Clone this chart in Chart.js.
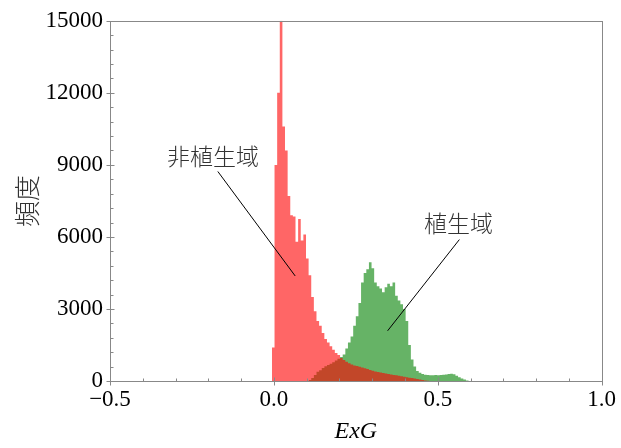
<!DOCTYPE html>
<html>
<head>
<meta charset="utf-8">
<script src="https://cdn.jsdelivr.net/npm/chart.js@4.4.1/dist/chart.umd.min.js"></script>
<style>
  html, body { margin: 0; padding: 0; background: #fff; }
  #wrap { width: 621px; height: 448px; }
</style>
</head>
<body>
<div id="wrap"><canvas id="histChart" width="621" height="448"></canvas></div>
<script>
// Histogram bins (ExG), same width for both classes
const BIN_WIDTH = 0.008;
const redStart = -0.006;   // left edge of first 非植生域 bin
const greenStart = 0.106;  // left edge of first 植生域 bin

// counts per bin
const redCounts = [
  400, 1400, 9000, 12000, 16000, 10600, 9600, 7700, 6900, 6850,
  5800, 6750, 5850, 6100, 5100, 4400, 3500, 2900, 2500, 2300,
  2000, 1750, 1600, 1450, 1300, 1170, 1080, 960, 870, 800,
  740, 690, 650, 620, 590, 560, 530, 500, 460, 430,
  400, 370, 350, 330, 310, 290, 270, 250, 240, 220,
  200, 180, 160, 140, 120, 100, 80, 60, 40, 25,
  15, 5
];
const greenCounts = [
  10, 40, 120, 250, 380, 450, 540, 610, 670, 720,
  780, 850, 930, 1000, 1100, 1350, 1600, 1850, 2300, 2700,
  3250, 4100, 4500, 4650, 4950, 4700, 4100, 3950, 3850, 3700,
  3900, 4050, 3950, 4100, 3550, 3350, 3200, 3000, 2500, 1500,
  900, 600, 420, 340, 290, 260, 250, 240, 240, 250,
  240, 250, 260, 270, 290, 300, 280, 220, 160, 100,
  60, 20
];

// axis ticks
const xTicks = [-0.5, 0.0, 0.5, 1.0];
const yTicks = [0, 3000, 6000, 9000, 12000, 15000];
const X_MINOR = 0.1;
const Y_MINOR = 600;

// labels with leader lines (data coordinates)
const annotations = [
  { text: '非植生域', textAt: [-0.1855, 9350], from: [-0.171, 8725], to: [0.065, 4375] },
  { text: '植生域', textAt: [0.563, 6565], from: [0.566, 5890], to: [0.347, 2090] }
];

const SERIF = "'Liberation Serif', 'Times New Roman', 'Noto Sans CJK JP', serif";
const CJK = "'Noto Sans CJK JP', 'Noto Sans CJK SC', sans-serif";

// turn counts into step points: one point per left edge plus a closing point
function toSteps(start, counts) {
  const pts = counts.map((c, i) => ({ x: start + i * BIN_WIDTH, y: c }));
  pts.push({ x: start + counts.length * BIN_WIDTH, y: 0 });
  return pts;
}

const fmtX = v => (v < 0 ? '\u2212' : '') + Math.abs(v).toFixed(1);

// frame, inward minor ticks, crossing major ticks, annotations
const decorPlugin = {
  id: 'decor',
  afterDatasetsDraw(chart) {
    const { ctx, scales: { x, y } } = chart;
    ctx.save();
    ctx.strokeStyle = '#000';
    ctx.lineWidth = 1;
    annotations.forEach(an => {
      ctx.beginPath();
      ctx.moveTo(x.getPixelForValue(an.from[0]), y.getPixelForValue(an.from[1]));
      ctx.lineTo(x.getPixelForValue(an.to[0]), y.getPixelForValue(an.to[1]));
      ctx.stroke();
      ctx.fillStyle = '#333';
      ctx.font = '300 23px ' + CJK;
      ctx.textAlign = 'center';
      ctx.textBaseline = 'middle';
      ctx.fillText(an.text, x.getPixelForValue(an.textAt[0]), y.getPixelForValue(an.textAt[1]));
    });
    ctx.restore();
  },
  afterDraw(chart) {
    const { ctx, chartArea: a, scales: { x, y } } = chart;
    const L = Math.round(a.left) + 0.5, B = Math.round(a.bottom) + 0.5;
    ctx.save();
    ctx.strokeStyle = '#888';
    ctx.lineWidth = 1;
    ctx.strokeRect(L, Math.round(a.top) + 0.5, Math.round(a.right) - Math.round(a.left), Math.round(a.bottom) - Math.round(a.top));
    ctx.beginPath();
    for (let v = -0.5; v <= 1.0001; v += X_MINOR) {
      const px = Math.round(x.getPixelForValue(v)) + 0.5;
      ctx.moveTo(px, B); ctx.lineTo(px, B - 3);
    }
    for (let v = 0; v <= 15000; v += Y_MINOR) {
      const py = Math.round(y.getPixelForValue(v)) + 0.5;
      ctx.moveTo(L, py); ctx.lineTo(L + 3, py);
    }
    xTicks.forEach(v => {
      const px = Math.round(x.getPixelForValue(v)) + 0.5;
      ctx.moveTo(px, B - 4); ctx.lineTo(px, B + 4);
    });
    yTicks.forEach(v => {
      const py = Math.round(y.getPixelForValue(v)) + 0.5;
      ctx.moveTo(L - 4, py); ctx.lineTo(L + 4, py);
    });
    ctx.stroke();
    ctx.restore();
  }
};

const stepDataset = (label, start, counts, color) => ({
  label: label,
  data: toSteps(start, counts),
  stepped: 'after',
  fill: 'origin',
  backgroundColor: color,
  borderWidth: 0,
  borderColor: 'transparent',
  pointRadius: 0
});

new Chart(document.getElementById('histChart').getContext('2d'), {
  type: 'line',
  data: {
    datasets: [
      // red first so it is painted on top of green (brown overlap)
      stepDataset('非植生域', redStart, redCounts, 'rgba(255, 0, 0, 0.6)'),
      stepDataset('植生域', greenStart, greenCounts, 'rgba(0, 128, 0, 0.6)')
    ]
  },
  options: {
    responsive: false,
    animation: false,
    devicePixelRatio: 1,
    layout: { padding: { top: 20, right: 19, left: 0, bottom: 0 } },
    plugins: {
      legend: { display: false },
      tooltip: { enabled: false }
    },
    scales: {
      x: {
        type: 'linear',
        min: -0.5,
        max: 1.0,
        afterFit: s => { s.height = 67; },
        afterBuildTicks: s => { s.ticks = xTicks.map(v => ({ value: v })); },
        grid: { display: false, drawTicks: false },
        border: { display: false },
        ticks: {
          padding: 5,
          color: '#000',
          font: { family: SERIF, size: 23 },
          maxRotation: 0,
          callback: v => fmtX(v)
        },
        title: {
          display: true,
          text: 'ExG',
          color: '#000',
          font: { family: SERIF, size: 24, style: 'italic' },
          padding: { top: 0, bottom: 2 }
        }
      },
      y: {
        min: 0,
        max: 15000,
        afterFit: s => { s.width = 110; },
        afterBuildTicks: s => { s.ticks = yTicks.map(v => ({ value: v })); },
        grid: { display: false, drawTicks: false },
        border: { display: false },
        ticks: {
          padding: 7,
          color: '#000',
          font: { family: SERIF, size: 23 },
          callback: v => String(v)
        },
        title: {
          display: true,
          text: '頻度',
          color: '#333',
          font: { family: CJK, size: 26, weight: '300' },
          padding: { top: 12, bottom: 0 }
        }
      }
    }
  },
  plugins: [decorPlugin]
});
</script>
</body>
</html>
